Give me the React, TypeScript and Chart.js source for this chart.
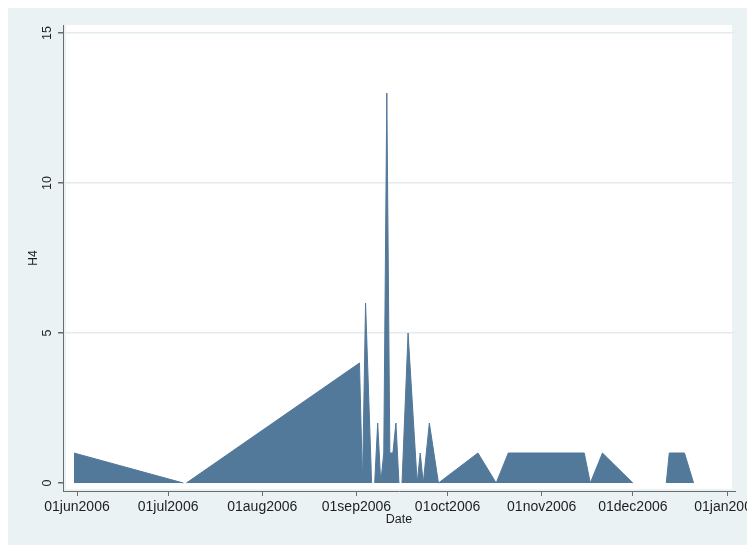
import React, { useEffect, useRef } from "react";
import { Chart, registerables } from "chart.js";

Chart.register(...registerables);

// Observation dates and H4 values (sparse observations, connected by straight lines)
const obsDates = [
  "2006-05-31", "2006-07-06", "2006-07-07", "2006-09-02", "2006-09-03",
  "2006-09-04", "2006-09-06", "2006-09-07", "2006-09-08", "2006-09-09",
  "2006-09-10", "2006-09-11", "2006-09-12", "2006-09-13", "2006-09-14",
  "2006-09-15", "2006-09-16", "2006-09-18", "2006-09-21", "2006-09-22",
  "2006-09-23", "2006-09-25", "2006-09-28", "2006-10-11", "2006-10-17",
  "2006-10-21", "2006-11-15", "2006-11-17", "2006-11-21", "2006-12-01",
  "2006-12-12", "2006-12-13", "2006-12-18", "2006-12-21",
];
const h4Values = [
  1, 0, 0, 4, 0,
  6, 0, 0, 2, 0,
  1, 13, 1, 1, 2,
  0, 0, 5, 0, 1,
  0, 2, 0, 1, 0,
  1, 1, 0, 1, 0,
  0, 1, 1, 0,
];

const xTickDates = [
  "2006-06-01", "2006-07-01", "2006-08-01", "2006-09-01",
  "2006-10-01", "2006-11-01", "2006-12-01", "2007-01-01",
];
const xTickLabels = [
  "01jun2006", "01jul2006", "01aug2006", "01sep2006",
  "01oct2006", "01nov2006", "01dec2006", "01jan2007",
];
const yTickValues = [0, 5, 10, 15];
const yTickLabels = ["0", "5", "10", "15"];

const xTitle = "Date";
const yTitle = "H4";

const BASE = Date.UTC(2006, 5, 1);
const dayOf = (s: string) => (Date.parse(s) - BASE) / 86400000;

const FONT = "'Liberation Sans', Arial, Helvetica, sans-serif";
const AREA = "#52789A";
const AXIS = "#6b6b6b";
const GRID = "#E3EBEE";
const BG = "#EAF2F3";
const TEXT = "#1e1e1e";

const bgPlugin = {
  id: "bgPlugin",
  beforeDraw(chart: any) {
    const { ctx, chartArea: a, width, height } = chart;
    ctx.save();
    ctx.fillStyle = BG;
    ctx.fillRect(0, 0, width, height);
    ctx.fillStyle = "#ffffff";
    ctx.fillRect(a.left + 3, a.top, a.right - a.left - 6, a.bottom - a.top - 2);
    ctx.restore();
  },
};

const yLabelPlugin = {
  id: "yLabelPlugin",
  afterDraw(chart: any) {
    const { ctx } = chart;
    const ys = chart.scales.y;
    ctx.save();
    ctx.fillStyle = TEXT;
    ctx.font = `12.5px ${FONT}`;
    ctx.textAlign = "center";
    ctx.textBaseline = "middle";
    yTickValues.forEach((v, i) => {
      const py = ys.getPixelForValue(v);
      ctx.save();
      ctx.translate(ys.right - 15, py);
      ctx.rotate(-Math.PI / 2);
      ctx.fillText(yTickLabels[i], 0, 0);
      ctx.restore();
    });
    ctx.restore();
  },
};

export default function App() {
  const ref = useRef<HTMLCanvasElement | null>(null);

  useEffect(() => {
    if (!ref.current) return;
    const points = obsDates.map((d, i) => ({ x: dayOf(d), y: h4Values[i] }));
    const xTicks = xTickDates.map(dayOf);
    const pxPerDay = 650 / 214;
    const xMin = -14 / pxPerDay;
    const xMax = 214 + 8 / pxPerDay;

    const chart = new Chart(ref.current, {
      type: "line",
      data: {
        datasets: [
          {
            data: points,
            fill: "origin",
            backgroundColor: AREA,
            borderColor: AREA,
            borderWidth: 1,
            pointRadius: 0,
            tension: 0,
            segment: {
              borderColor: (c: any) =>
                c.p0.parsed.y === 0 && c.p1.parsed.y === 0 ? "rgba(0,0,0,0)" : undefined,
            },
          },
        ],
      },
      options: {
        animation: false,
        responsive: true,
        maintainAspectRatio: false,
        layout: { padding: { left: 0, right: 20, top: 17, bottom: 0 } },
        plugins: {
          legend: { display: false },
          tooltip: { enabled: false },
        },
        scales: {
          x: {
            type: "linear",
            min: xMin,
            max: xMax,
            afterBuildTicks: (s: any) => {
              s.ticks = xTicks.map((v) => ({ value: v }));
            },
            afterFit: (s: any) => {
              s.height = 54;
              s.paddingLeft = 0;
              s.paddingRight = 0;
            },
            ticks: {
              padding: 3,
              color: TEXT,
              font: { family: FONT, size: 14 },
              maxRotation: 0,
              minRotation: 0,
              autoSkip: false,
              callback: (v: any) => {
                const i = xTicks.indexOf(Number(v));
                return i >= 0 ? xTickLabels[i] : "";
              },
            },
            grid: {
              drawOnChartArea: false,
              drawTicks: true,
              tickLength: 5,
              tickColor: AXIS,
            },
            border: { display: true, color: AXIS, width: 1 },
            title: {
              display: true,
              text: xTitle,
              color: TEXT,
              font: { family: FONT, size: 12.5 },
              padding: { top: 0, bottom: 18 },
            },
          },
          y: {
            type: "linear",
            min: -8 / 30,
            max: 15 + 8 / 30,
            afterBuildTicks: (s: any) => {
              s.ticks = yTickValues.map((v) => ({ value: v }));
            },
            afterFit: (s: any) => {
              s.width = 55;
              s.paddingTop = 0;
              s.paddingBottom = 0;
            },
            ticks: { display: false },
            grid: {
              color: (c: any) => (c.tick && c.tick.value === 0 ? "rgba(0,0,0,0)" : GRID),
              lineWidth: 1.5,
              drawTicks: true,
              tickLength: 5,
              tickColor: AXIS,
            },
            border: { display: true, color: AXIS, width: 1 },
            title: {
              display: true,
              text: yTitle,
              color: TEXT,
              font: { family: FONT, size: 12 },
              padding: { top: 18, bottom: 0 },
            },
          },
        },
      },
      plugins: [bgPlugin, yLabelPlugin],
    });
    return () => chart.destroy();
  }, []);

  return (
    <div style={{ position: "relative", width: 747, height: 537 }}>
      <canvas ref={ref} />
    </div>
  );
}
